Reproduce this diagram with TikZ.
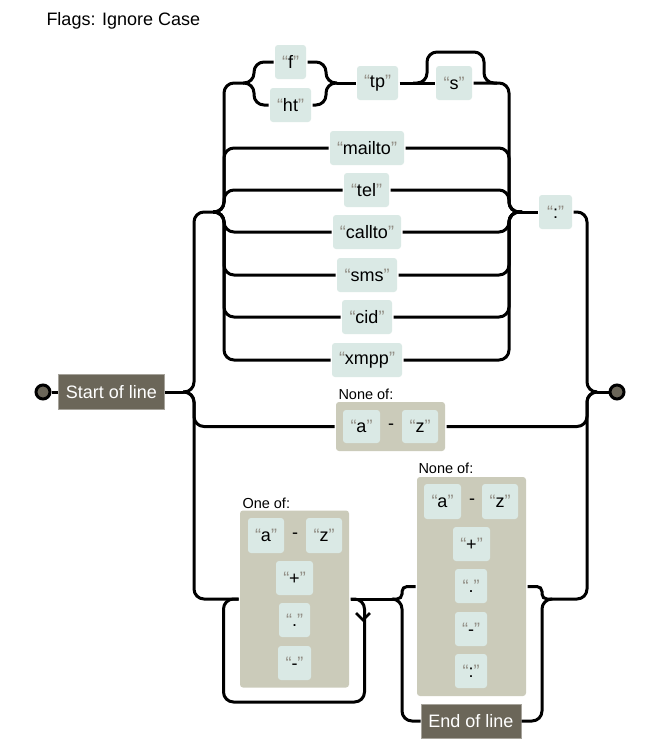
\documentclass[tikz,border=0pt]{standalone}
\usepackage{fontspec}
\setmainfont{Liberation Sans}
\definecolor{litfill}{HTML}{DAE9E5}
\definecolor{setfill}{HTML}{CBCBBA}
\definecolor{anc}{HTML}{6B6659}
\definecolor{qgray}{HTML}{908C83}
\newcommand\myq[1]{{\color{qgray}“}#1{\color{qgray}”}}
\begin{document}
\begin{tikzpicture}[x=1pt,y=-1pt,line width=3pt,
  lit/.style={rounded corners=3pt,fill=litfill,inner sep=0pt,minimum height=34pt,font=\fontsize{18}{20}\selectfont},
  anchorbox/.style={fill=anc,draw=anc!60!white,line width=1pt,text=white,inner sep=0pt,minimum height=35pt,font=\fontsize{18}{20}\selectfont},
  setbox/.style={rounded corners=3pt,fill=setfill,inner sep=0pt},
  lbl/.style={anchor=base west,inner sep=0pt,font=\fontsize{14.5}{16}\selectfont},
  hy/.style={inner sep=0pt,font=\fontsize{18}{20}\selectfont},
  conn/.style={rounded corners=10pt},
  sconn/.style={rounded corners=5pt},
  endpt/.style={circle,draw,fill=anc,minimum size=14pt,inner sep=0pt}]
\fill[white] (0,0) rectangle (664,750);
\useasboundingbox (0,0) rectangle (664,750);
% title
\node[lbl,font=\fontsize{18}{20}\selectfont] (flags) at (45,25) {Flags: Ignore Case};
% start / end
\node[endpt] (sc) at (43,392) {};
\node[anchorbox,minimum width=106pt] (sol) at (111.5,392) {Start of line};
\node[endpt] (ec) at (617,392) {};
\coordinate (osplit) at (183,392);
\coordinate (omerge) at (597,392);
% protocol alternation
\coordinate (isplit) at (213,212);
\coordinate (imerge) at (522,212);
\coordinate (fsplit) at (243,83);
\coordinate (fmerge) at (337,83);
\coordinate (skipA) at (413,83);
\coordinate (skipB) at (497,83);
\node[lit,minimum width=31pt] (f) at (290.5,62) {\myq{f}};
\node[lit,minimum width=41pt] (ht) at (290.5,105) {\myq{ht}};
\node[lit,minimum width=41pt] (tp) at (377.5,83) {\myq{tp}};
\node[lit,minimum width=36pt] (s) at (454,83) {\myq{s}};
\node[lit,minimum width=74pt] (mailto) at (367,148) {\myq{mailto}};
\node[lit,minimum width=45pt] (tel) at (366.5,190) {\myq{tel}};
\node[lit,minimum width=68pt] (callto) at (367,232) {\myq{callto}};
\node[lit,minimum width=60pt] (sms) at (367,275) {\myq{sms}};
\node[lit,minimum width=50pt] (cid) at (367,317) {\myq{cid}};
\node[lit,minimum width=70pt] (xmpp) at (367,360) {\myq{xmpp}};
\node[lit,minimum width=33pt] (col) at (555.5,212) {\myq{:}};
% middle none-of
\node[lbl] (n1l) at (337,399) {None of:};
\node[setbox,minimum width=109pt,minimum height=49pt] (n1) at (390.5,426.5) {};
\node[lit,minimum width=37pt,minimum height=33pt] (n1a) at (361.5,426.5) {\myq{a}};
\node[hy] (n1d) at (391,426.5) {-};
\node[lit,minimum width=36pt,minimum height=33pt] (n1z) at (420,426.5) {\myq{z}};
% one-of
\node[lbl] (obl) at (241,508) {One of:};
\node[setbox,minimum width=109pt,minimum height=177pt] (ob) at (294.5,599) {};
\node[lit,minimum width=36pt,minimum height=35pt] (oba) at (266,535.5) {\myq{a}};
\node[hy] (obd) at (295,535.5) {-};
\node[lit,minimum width=36pt,minimum height=35pt] (obz) at (324,535.5) {\myq{z}};
\node[lit,minimum width=37pt] (obp) at (294.5,578) {\myq{+}};
\node[lit,minimum width=31pt] (obdot) at (294.5,620) {\myq{.}};
\node[lit,minimum width=33pt] (obm) at (294.5,663) {\myq{-}};
% none-of 2
\node[lbl] (nbl) at (417,473) {None of:};
\node[setbox,minimum width=109pt,minimum height=219pt] (nb) at (471.5,586.5) {};
\node[lit,minimum width=37pt,minimum height=35pt] (nba) at (442.5,501.5) {\myq{a}};
\node[hy] (nbd) at (472,501.5) {-};
\node[lit,minimum width=36pt,minimum height=35pt] (nbz) at (500,501.5) {\myq{z}};
\node[lit,minimum width=37pt] (nbp) at (471.5,544) {\myq{+}};
\node[lit,minimum width=32pt] (nbdot) at (471,586) {\myq{.}};
\node[lit,minimum width=32pt] (nbm) at (471,629) {\myq{-}};
\node[lit,minimum width=32pt] (nbc) at (471,671) {\myq{:}};
\node[anchorbox,minimum width=100pt,minimum height=34pt] (eol) at (471,721) {End of line};
\coordinate (bsplit) at (393,599);
\coordinate (bmerge) at (552,599);
% connectors
\draw (sc) -- (sol.west);
\draw (sol.east) -- (osplit);
\draw[conn] (osplit) -- ++(11,0) |- (isplit);
\draw[conn] (osplit) -- ++(11,0) |- (n1.west);
\draw[conn] (osplit) -- ++(11,0) |- (ob.west);
% inner alternation
\draw[conn] (isplit) -- ++(11,0) |- (fsplit);
\foreach \b in {mailto,tel,callto,sms,cid,xmpp}{
  \draw[conn] (isplit) -- ++(11,0) |- (\b.west);
  \draw[conn] (\b.east) -| ([xshift=-13pt]imerge) -- (imerge);
}
\draw[conn] (fsplit) -- ++(11,0) |- (f.west);
\draw[conn] (fsplit) -- ++(11,0) |- (ht.west);
\draw[conn] (f.east) -| ([xshift=-11pt]fmerge) -- (fmerge);
\draw[conn] (ht.east) -| ([xshift=-11pt]fmerge) -- (fmerge);
\draw (fmerge) -- (tp.west);
\draw (tp.east) -- (s.west);
\draw[conn] (skipA) -- ++(14,0) -- ++(0,-31) -- ++(57,0) -- ++(0,31) -- (skipB);
\draw[conn] (s.east) -| ([xshift=-13pt]imerge) -- (imerge);
\draw (imerge) -- (col.west);
\draw[conn] (col.east) -| ([xshift=-10pt]omerge) -- (omerge);
\draw[conn] (n1.east) -| ([xshift=-10pt]omerge) -- (omerge);
\draw[conn] (bmerge) -| ([xshift=-10pt]omerge) -- (omerge);
\draw (omerge) -- (ec);
% loop
\draw[conn] (ob.east) -- ++(14,0) -- ++(0,103) -| ([xshift=-15pt]ob.west) -- (ob.west);
\draw[line width=2.5pt] (356,613) -- (363,620) -- (370,613);
\draw (ob.east) -- (bsplit);
\draw[sconn] (bsplit) -- ++(9,0) |- (nb.west);
\draw[conn] (bsplit) -- ++(9,0) |- (eol.west);
\draw[sconn] (nb.east) -| ([xshift=-10pt]bmerge) -- (bmerge);
\draw[conn] (eol.east) -| ([xshift=-10pt]bmerge) -- (bmerge);
\end{tikzpicture}
\end{document}
